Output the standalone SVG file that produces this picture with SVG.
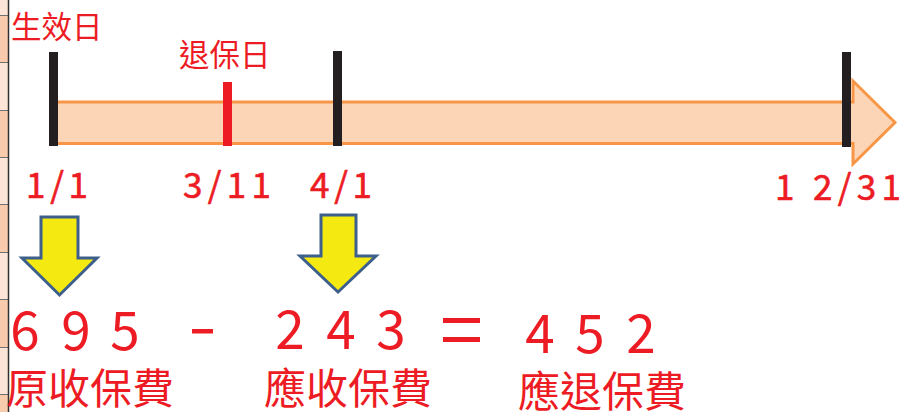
<svg xmlns="http://www.w3.org/2000/svg" width="904" height="412" viewBox="0 0 904 412">
<style>
.red{fill:#ed1c24;font-family:"Noto Sans CJK TC","Noto Sans CJK SC",sans-serif}
.lbl{font-size:30.5px}
.date{font-size:35px;stroke:#ed1c24;stroke-width:0.6}
.num{font-size:53px;text-anchor:middle}
.big{font-size:42px}
.bar{fill:#231f20}
.ya{fill:#f4e911;stroke:#3d5f8c;stroke-width:3;stroke-linejoin:miter}
.grid{stroke:#707070;stroke-width:1}
</style>
<rect width="904" height="412" fill="#ffffff"/>
<g id="sheet-edge">
<rect x="0" y="0" width="8" height="15" fill="#fce4d6"/>
<rect x="0" y="15" width="8" height="47" fill="#f8cbad"/>
<rect x="0" y="62" width="8" height="48" fill="#fce4d6"/>
<rect x="0" y="110" width="8" height="47" fill="#f8cbad"/>
<rect x="0" y="157" width="8" height="47" fill="#fce4d6"/>
<rect x="0" y="204" width="8" height="48" fill="#f8cbad"/>
<rect x="0" y="252" width="8" height="47" fill="#fce4d6"/>
<rect x="0" y="299" width="8" height="48" fill="#f8cbad"/>
<rect x="0" y="347" width="8" height="47" fill="#fce4d6"/>
<rect x="0" y="394" width="8" height="18" fill="#f8cbad"/>
<path class="grid" d="M0 15.5H8M0 62.5H8M0 110.5H8M0 157.5H8M0 204.5H8M0 252.5H8M0 299.5H8M0 347.5H8M0 394.5H8"/>
<line x1="8.5" y1="0" x2="8.5" y2="412" stroke="#303030" stroke-width="1.5"/>
</g>
<g id="timeline">
<polygon points="55,102 853,102 853,81 895,122.5 853,164 853,143.5 55,143.5" fill="#fbd5b5" stroke="#f79646" stroke-width="3"/>
</g>
<g id="tick-1-1"><rect class="bar" x="49" y="52" width="9" height="94"/></g>
<g id="tick-3-11"><rect x="223" y="82" width="9" height="64" fill="#ed1c24"/></g>
<g id="tick-4-1"><rect class="bar" x="333" y="51" width="9" height="95"/></g>
<g id="tick-12-31"><rect class="bar" x="842" y="52" width="9" height="95"/></g>
<g id="labels">
<text class="red lbl" x="11" y="38">生效日</text>
<text class="red lbl" x="179" y="66">退保日</text>
<text class="red date" x="26" y="198" textLength="62" lengthAdjust="spacing">1/1</text>
<text class="red date" x="183" y="198" textLength="88" lengthAdjust="spacing">3/11</text>
<text class="red date" x="310" y="198" textLength="62" lengthAdjust="spacing">4/1</text>
<text class="red date" x="775" y="200" textLength="126" lengthAdjust="spacing">1 2/31</text>
</g>
<g id="arrow-1">
<polygon class="ya" points="41,217 78,217 78,258 97,258 59.5,295 22,258 41,258"/>
</g>
<g id="arrow-2">
<polygon class="ya" points="321,215 356,215 356,256 376,256 338,292 300,256 321,256"/>
</g>
<g id="equation">
<text class="red num" x="25" y="350">6</text>
<text class="red num" x="76" y="350">9</text>
<text class="red num" x="125" y="350">5</text>
<rect x="192" y="329" width="21" height="4.5" fill="#ed1c24"/>
<text class="red num" x="290" y="349">2</text>
<text class="red num" x="341" y="349">4</text>
<text class="red num" x="391" y="349">3</text>
<rect x="443" y="318" width="37" height="5" fill="#ed1c24"/>
<rect x="443" y="337" width="37" height="5" fill="#ed1c24"/>
<text class="red num" x="540" y="353">4</text>
<text class="red num" x="590" y="353">5</text>
<text class="red num" x="641" y="353">2</text>
<text class="red big" x="6" y="404">原收保費</text>
<text class="red big" x="264" y="404">應收保費</text>
<text class="red big" x="518" y="407">應退保費</text>
</g>
</svg>
